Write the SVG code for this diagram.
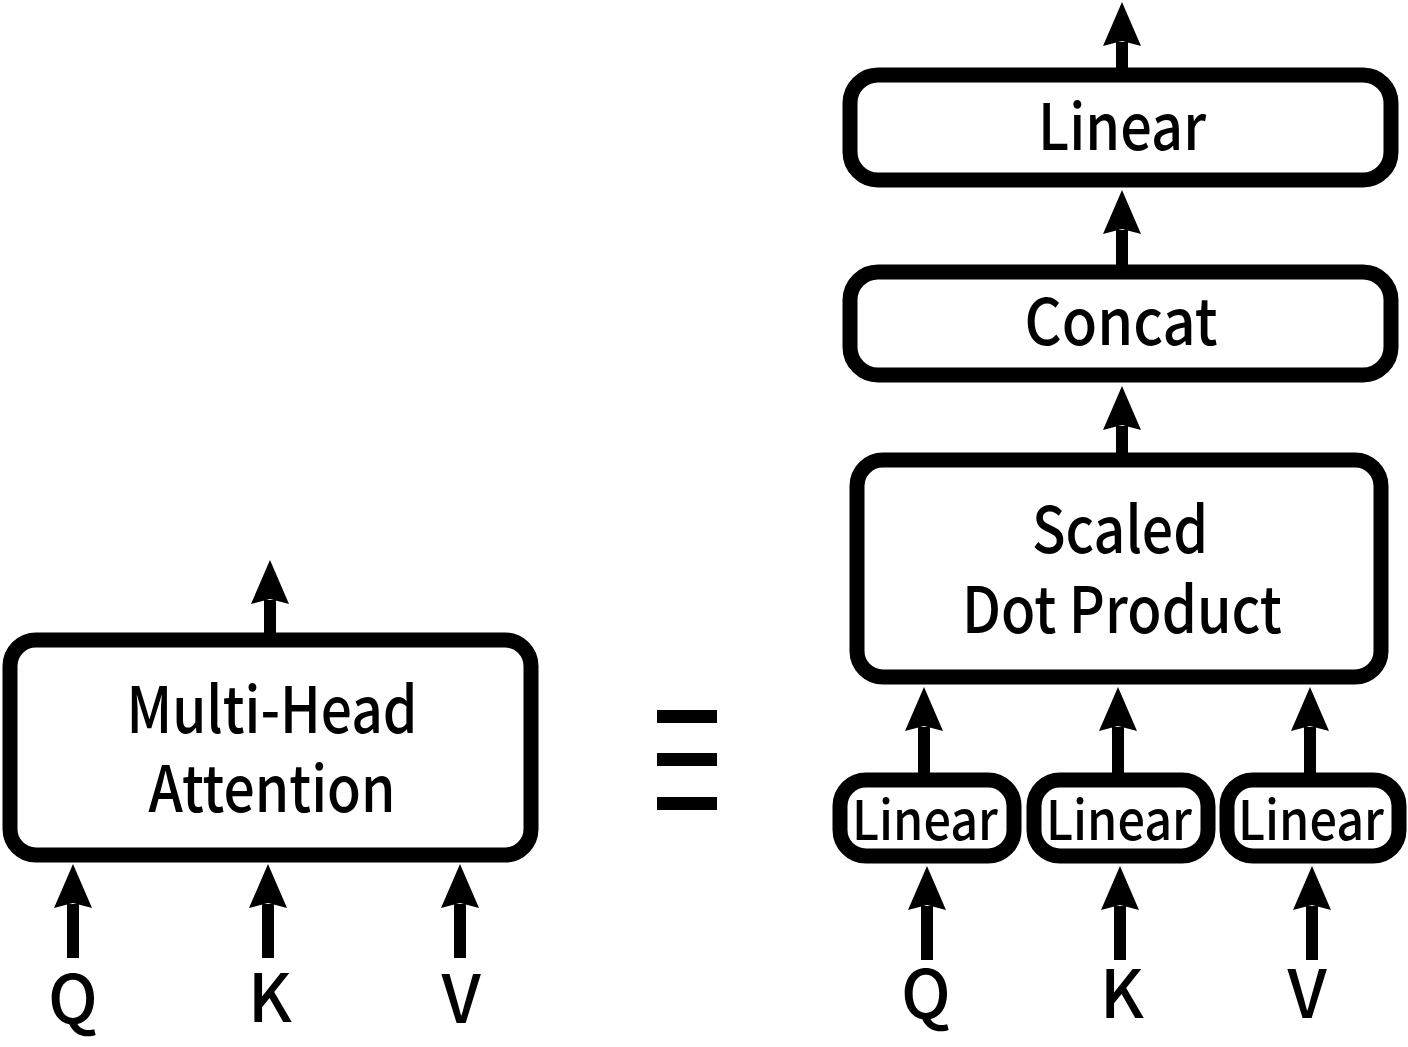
<svg xmlns="http://www.w3.org/2000/svg" width="1408" height="1047" viewBox="0 0 1408 1047">
<style>
  .box{fill:#fff;stroke:#000;stroke-width:15}
  .lbl{font-family:"Noto Sans CJK JP","Source Sans Pro","Liberation Sans",sans-serif;font-weight:500;fill:#000;text-anchor:middle}
  .big{font-size:64px}
  .small{font-size:54px}
  .io{font-size:66px}
  .wire{stroke:#000;stroke-width:12;fill:none;marker-end:url(#head)}
</style>
<defs>
  <marker id="head" markerUnits="userSpaceOnUse" viewBox="0 -20 46 40" refX="4" refY="0" markerWidth="46" markerHeight="40" orient="auto" overflow="visible">
    <path d="M0,-19 L44,0 L0,19 L5,0 Z" fill="#000"/>
  </marker>
</defs>
<rect width="1408" height="1047" fill="#fff"/>

<g id="connectors">
  <line class="wire" x1="270" y1="634" x2="270" y2="600"/>
  <line class="wire" x1="73" y1="958" x2="73" y2="904"/>
  <line class="wire" x1="268" y1="958" x2="268" y2="904"/>
  <line class="wire" x1="460" y1="958" x2="460" y2="904"/>
  <line class="wire" x1="1122" y1="70" x2="1122" y2="42"/>
  <line class="wire" x1="1122" y1="267" x2="1122" y2="230"/>
  <line class="wire" x1="1122" y1="455" x2="1122" y2="426"/>
  <line class="wire" x1="924" y1="775" x2="924" y2="727"/>
  <line class="wire" x1="1118" y1="775" x2="1118" y2="727"/>
  <line class="wire" x1="1310" y1="775" x2="1310" y2="727"/>
  <line class="wire" x1="927" y1="960" x2="927" y2="906"/>
  <line class="wire" x1="1120" y1="960" x2="1120" y2="906"/>
  <line class="wire" x1="1312" y1="960" x2="1312" y2="906"/>
</g>

<g id="mha">
  <rect class="box" x="10" y="640" width="521" height="215" rx="26"/>
  <text class="lbl big" x="272" y="733" textLength="291" lengthAdjust="spacingAndGlyphs">Multi-Head</text>
  <text class="lbl big" x="272" y="812" textLength="247" lengthAdjust="spacingAndGlyphs">Attention</text>
</g>

<g id="equiv">
  <rect x="657" y="710" width="60" height="13" fill="#000"/>
  <rect x="657" y="753" width="60" height="13" fill="#000"/>
  <rect x="657" y="797" width="60" height="13" fill="#000"/>
</g>

<g id="linear-out">
  <rect class="box" x="850" y="75" width="541" height="105" rx="28"/>
  <text class="lbl big" x="1122" y="150" textLength="168" lengthAdjust="spacingAndGlyphs">Linear</text>
</g>

<g id="concat">
  <rect class="box" x="850" y="272" width="541" height="103" rx="28"/>
  <text class="lbl big" x="1121" y="345" textLength="193" lengthAdjust="spacingAndGlyphs">Concat</text>
</g>

<g id="sdp">
  <rect class="box" x="857" y="460" width="524" height="217" rx="26"/>
  <text class="lbl big" x="1120" y="553" textLength="176" lengthAdjust="spacingAndGlyphs">Scaled</text>
  <text class="lbl big" x="1122" y="633" textLength="320" lengthAdjust="spacingAndGlyphs">Dot Product</text>
</g>

<g id="linear-q">
  <rect class="box" x="840" y="780" width="174" height="76" rx="26"/>
  <text class="lbl small" x="925" y="840" textLength="146" lengthAdjust="spacingAndGlyphs">Linear</text>
</g>
<g id="linear-k">
  <rect class="box" x="1034" y="780" width="174" height="76" rx="26"/>
  <text class="lbl small" x="1119" y="840" textLength="146" lengthAdjust="spacingAndGlyphs">Linear</text>
</g>
<g id="linear-v">
  <rect class="box" x="1227" y="780" width="172" height="76" rx="26"/>
  <text class="lbl small" x="1311" y="840" textLength="146" lengthAdjust="spacingAndGlyphs">Linear</text>
</g>

<g id="inputs-left">
  <text class="lbl io" x="73" y="1023">Q</text>
  <text class="lbl io" x="270" y="1022">K</text>
  <text class="lbl io" x="461" y="1023">V</text>
</g>
<g id="inputs-right">
  <text class="lbl io" x="926" y="1018">Q</text>
  <text class="lbl io" x="1122" y="1018">K</text>
  <text class="lbl io" x="1307" y="1018">V</text>
</g>
</svg>
